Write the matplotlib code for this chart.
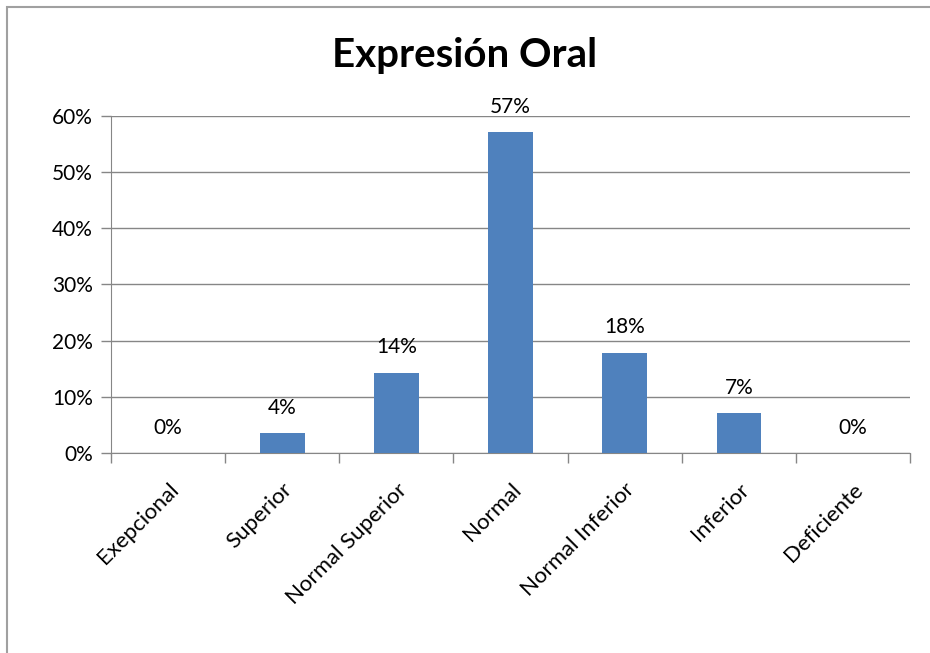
import matplotlib
matplotlib.use("Agg")
import matplotlib.pyplot as plt
from matplotlib.patches import Rectangle
from matplotlib.ticker import FuncFormatter, FixedLocator

plt.rcParams['font.family'] = ['Lato', 'DejaVu Sans']

# data
categories = ['Exepcional', 'Superior', 'Normal Superior', 'Normal',
              'Normal Inferior', 'Inferior', 'Deficiente']
values = [0.0, 0.0357, 0.1429, 0.5714, 0.1786, 0.0714, 0.0]
value_labels = ['0%', '4%', '14%', '57%', '18%', '7%', '0%']
yticks = [0.0, 0.1, 0.2, 0.3, 0.4, 0.5, 0.6]

BAR_COLOR = '#4F81BD'
GRID = '#868686'

fig = plt.figure(figsize=(9.3, 6.53), dpi=100)
ax = fig.add_axes([0.1194, 0.3063, 0.8591, 0.5161])

x = list(range(len(categories)))
ax.bar(x, values, width=0.39, color=BAR_COLOR, zorder=3)

for xi, v, lab in zip(x, values, value_labels):
    ax.annotate(lab, (xi, v), xytext=(0, 11), textcoords='offset points',
                ha='center', va='bottom', fontsize=15, color='black')

ax.set_xlim(-0.5, len(categories) - 0.5)
ax.set_ylim(0, 0.6)
ax.set_yticks(yticks)
ax.yaxis.set_major_formatter(FuncFormatter(lambda v, p: f'{v*100:.0f}%'))
ax.yaxis.grid(True, color=GRID, linewidth=1, zorder=0)

# category labels centered, ticks at boundaries
ax.set_xticks(x)
ax.set_xticklabels(categories, rotation=45, ha='right', rotation_mode='anchor',
                   fontsize=16)
ax.tick_params(axis='x', which='major', length=0, pad=19)
ax.xaxis.set_minor_locator(FixedLocator([i - 0.5 for i in range(len(categories) + 1)]))
ax.tick_params(axis='x', which='minor', length=7, color=GRID, width=1)
ax.tick_params(axis='y', length=7, color=GRID, width=1, labelsize=15, pad=6)

for s in ['top', 'right']:
    ax.spines[s].set_visible(False)
ax.spines['left'].set_color(GRID)
ax.spines['bottom'].set_color(GRID)

fig.text(0.5, 0.915, 'Expresión Oral', ha='center', va='center',
         fontsize=29, fontweight='bold')

# outer chart border
fig.patches.append(Rectangle((7 / 930, -0.1), 1.2, 1.1 - 7 / 653,
                             transform=fig.transFigure, fill=False,
                             edgecolor='#A0A0A0', linewidth=1.5))

fig.savefig('out.png', dpi=100)
